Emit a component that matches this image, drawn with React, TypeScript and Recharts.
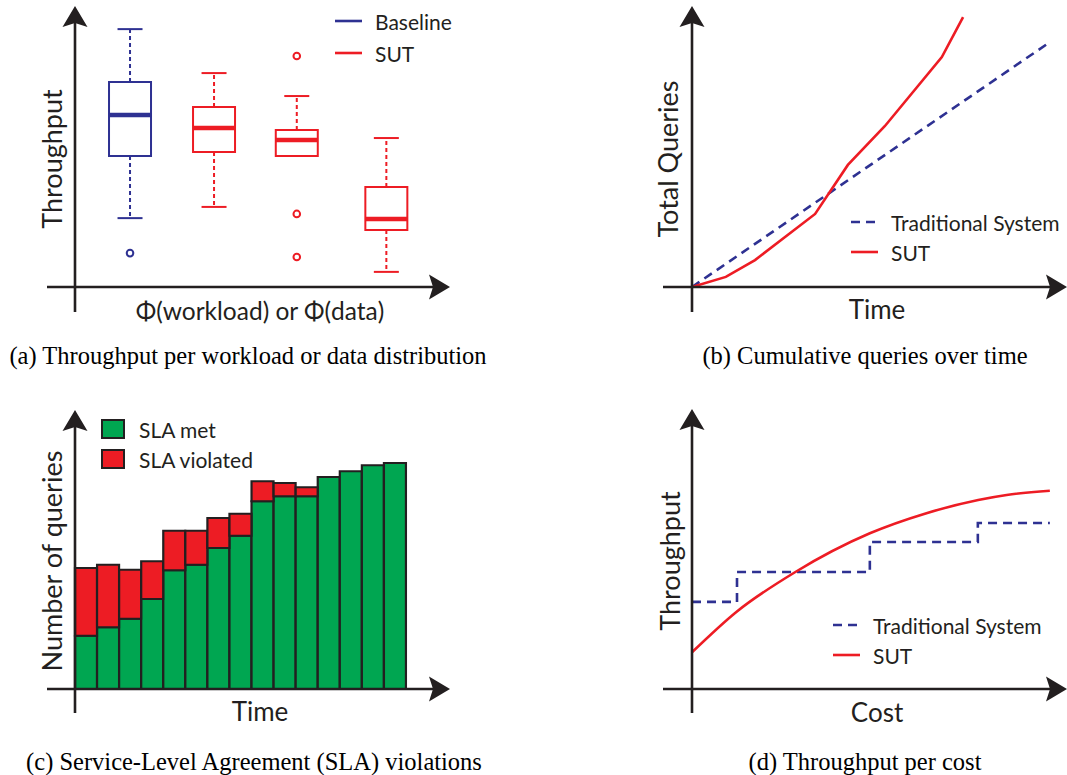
import React from "react"
import {
  Bar,
  BarChart,
  ComposedChart,
  Legend,
  Line,
  ReferenceArea,
  ReferenceLine,
  Scatter,
  XAxis,
  YAxis,
} from "recharts"

const INK = "#231f20"
const BLUE = "#2e3192"
const RED = "#ed1c24"
const GREEN = "#00a651"
const SANS = "Lato, 'Open Sans', sans-serif"
const SERIF = "'Liberation Serif', 'Times New Roman', serif"

// (a) throughput box plots, one per distribution
const boxGroup = ["Baseline", "SUT", "SUT", "SUT"]
const boxPos = [0.645, 1.63, 2.6, 3.65]
const boxMin = [24.6, 28.6, 46.8, 5.4]
const boxQ1 = [46.8, 48.2, 46.8, 20.4]
const boxMedian = [61.4, 56.8, 52.5, 24.3]
const boxQ3 = [73.2, 64.3, 56.1, 35.7]
const boxMax = [92.1, 76.4, 68.2, 53.2]
const outlierGroup = ["Baseline", "SUT", "SUT", "SUT"]
const outlierPos = [0.645, 2.6, 2.6, 2.6]
const outlierVal = [12.1, 82.5, 26.1, 10.7]

// (b) cumulative queries
const tradTime = [0, 9.9]
const tradQueries = [0, 87.1]
const sutTime = [0, 0.94, 1.75, 3.42, 4.33, 5.36, 6.94, 7.53]
const sutQueries = [0, 3.6, 9.6, 26.1, 43.6, 57.5, 82.1, 96.4]

// (c) SLA per period
const periods = ["1", "2", "3", "4", "5", "6", "7", "8", "9", "10", "11", "12", "13", "14", "15"]
const slaMet = [21.3, 24.7, 28.1, 36, 47.5, 49.7, 56.4, 61.3, 75.1, 77.1, 77.1, 84.8, 87.1, 89.5, 90.4]
const slaViolated = [27.1, 25, 19.6, 15.1, 15.8, 13.6, 12, 8.8, 8, 5.3, 3.6, 0, 0, 0, 0]

// (d) throughput per cost
const stepCost = [0, 1.25, 4.94, 7.94, 9.94]
const stepThroughput = [31.1, 41.8, 52.5, 59.3, 59.3]
const sutCost = [0, 1.24, 2.86, 4.94, 6.49, 7.95, 8.74, 9.94]
const sutThroughput = [13.1, 27.6, 41.7, 55.6, 62.7, 67.5, 69.3, 70.8]

const colorOf = (g: string) => (g === "Baseline" ? BLUE : RED)

// panel frames in page pixels: extent of the arrows, origin, px per unit
type Frame = { left: number; top: number; right: number; bottom: number; ox: number; oy: number; sx: number; sy: number }
const frameA: Frame = { left: 47, top: 6, right: 450, bottom: 312, ox: 75, oy: 287, sx: 85.3, sy: 2.8 }
const frameB: Frame = { left: 663, top: 6, right: 1067, bottom: 312, ox: 692, oy: 287, sx: 36, sy: 2.8 }
const frameC: Frame = { left: 47, top: 410, right: 450, bottom: 713, ox: 75, oy: 689, sx: 1, sy: 2.5 }
const frameD: Frame = { left: 663, top: 409, right: 1067, bottom: 713, ox: 692, oy: 689, sx: 36, sy: 2.8 }

const xDomain = (f: Frame): [number, number] => [(f.left - f.ox) / f.sx, (f.right - f.ox) / f.sx]
const yDomain = (f: Frame): [number, number] => [-(f.bottom - f.oy) / f.sy, (f.oy - f.top) / f.sy]
const noMargin = { top: 0, right: 0, bottom: 0, left: 0 }

const AxisArrow = (props: any) => {
  const { x1, y1, x2, y2 } = props
  const vertical = Math.abs(x1 - x2) < 1
  const L = 21
  const W = 12.5
  const N = 4
  const tip = vertical ? [x1, Math.min(y1, y2)] : [Math.max(x1, x2), y1]
  const dir = vertical ? [0, -1] : [1, 0]
  const start = vertical ? [x1, Math.max(y1, y2)] : [Math.min(x1, x2), y1]
  const base = [tip[0] - dir[0] * L, tip[1] - dir[1] * L]
  const perp = [-dir[1], dir[0]]
  const notch = [base[0] + dir[0] * N, base[1] + dir[1] * N]
  const pts = [tip, [base[0] + perp[0] * W, base[1] + perp[1] * W], notch, [base[0] - perp[0] * W, base[1] - perp[1] * W]]
    .map((p) => p.join(","))
    .join(" ")
  return (
    <g>
      <line x1={start[0]} y1={start[1]} x2={notch[0]} y2={notch[1]} stroke={INK} strokeWidth={2.6} />
      <polygon points={pts} fill={INK} />
    </g>
  )
}

const LegendBox = ({ items, rowH }: { items: { label: string; kind: string; color: string }[]; rowH: number }) => (
  <div style={{ fontFamily: SANS, fontSize: 21, color: INK }}>
    {items.map((it) => (
      <div key={it.label} style={{ display: "flex", alignItems: "center", height: rowH, whiteSpace: "nowrap" }}>
        <svg width={it.kind === "square" ? 24 : 27} height={20} style={{ marginRight: it.kind === "square" ? 14 : 13 }}>
          {it.kind === "square" ? (
            <rect x={1} y={1} width={22} height={18} fill={it.color} stroke={INK} strokeWidth={2} />
          ) : (
            <line x1={0} y1={10} x2={27} y2={10} stroke={it.color} strokeWidth={2.6} strokeDasharray={it.kind === "dash" ? "9 6" : undefined} />
          )}
        </svg>
        <span>{it.label}</span>
      </div>
    ))}
  </div>
)

const legendA = [
  { label: "Baseline", kind: "line", color: BLUE },
  { label: "SUT", kind: "line", color: RED },
]
const legendLines = [
  { label: "Traditional System", kind: "dash", color: BLUE },
  { label: "SUT", kind: "line", color: RED },
]
const legendC = [
  { label: "SLA met", kind: "square", color: GREEN },
  { label: "SLA violated", kind: "square", color: RED },
]

const labels = [
  { text: "Throughput", x: 51, y: 159, rot: true, size: 27 },
  { text: "Φ(workload) or Φ(data)", x: 260, y: 311, rot: false, size: 24.5 },
  { text: "Total Queries", x: 667, y: 159, rot: true, size: 27 },
  { text: "Time", x: 877, y: 309, rot: false, size: 26 },
  { text: "Number of queries", x: 51, y: 561, rot: true, size: 27 },
  { text: "Time", x: 260, y: 711, rot: false, size: 26 },
  { text: "Throughput", x: 669, y: 561, rot: true, size: 27 },
  { text: "Cost", x: 877, y: 712, rot: false, size: 26 },
]

const captions = [
  { text: "(a) Throughput per workload or data distribution", x: 248, y: 356 },
  { text: "(b) Cumulative queries over time", x: 865, y: 356 },
  { text: "(c) Service-Level Agreement (SLA) violations", x: 254, y: 762 },
  { text: "(d) Throughput per cost", x: 865, y: 762 },
]

const pos = (f: Frame): React.CSSProperties => ({ position: "absolute", left: f.left, top: f.top })

const OutlierDot = (p: any) => (
  <circle cx={p.cx} cy={p.cy} r={3.3} fill="#fff" stroke={colorOf(p.payload.group)} strokeWidth={2} />
)

const BoxPlotPanel = () => {
  const f = frameA
  const half = 21 / f.sx
  const cap = 12.5 / f.sx
  const outliers = outlierPos.map((x, i) => ({ x, y: outlierVal[i], group: outlierGroup[i] }))
  return (
    <div style={pos(f)}>
      <ComposedChart width={f.right - f.left} height={f.bottom - f.top} margin={noMargin}>
        <XAxis type="number" dataKey="x" domain={xDomain(f)} hide allowDataOverflow />
        <YAxis type="number" dataKey="y" domain={yDomain(f)} hide allowDataOverflow />
        {boxPos.map((x, i) => {
          const c = colorOf(boxGroup[i])
          return (
            <React.Fragment key={i}>
              <ReferenceLine segment={[{ x, y: boxQ3[i] }, { x, y: boxMax[i] }]} stroke={c} strokeWidth={2} strokeDasharray="4 3" />
              <ReferenceLine segment={[{ x: x - cap, y: boxMax[i] }, { x: x + cap, y: boxMax[i] }]} stroke={c} strokeWidth={2} />
              {boxMin[i] < boxQ1[i] && (
                <ReferenceLine segment={[{ x, y: boxQ1[i] }, { x, y: boxMin[i] }]} stroke={c} strokeWidth={2} strokeDasharray="4 3" />
              )}
              {boxMin[i] < boxQ1[i] && (
                <ReferenceLine segment={[{ x: x - cap, y: boxMin[i] }, { x: x + cap, y: boxMin[i] }]} stroke={c} strokeWidth={2} />
              )}
              <ReferenceArea x1={x - half} x2={x + half} y1={boxQ1[i]} y2={boxQ3[i]} fill="#fff" fillOpacity={1} stroke={c} strokeWidth={2} />
              <ReferenceLine segment={[{ x: x - half, y: boxMedian[i] }, { x: x + half, y: boxMedian[i] }]} stroke={c} strokeWidth={4.5} />
            </React.Fragment>
          )
        })}
        <Scatter data={outliers} shape={OutlierDot} isAnimationActive={false} />
        <ReferenceLine x={0} shape={AxisArrow} />
        <ReferenceLine y={0} shape={AxisArrow} />
        <Legend
          layout="vertical"
          align="center"
          verticalAlign="middle"
          wrapperStyle={{ left: 288, top: -1, width: "auto" }}
          content={() => <LegendBox items={legendA} rowH={32} />}
        />
      </ComposedChart>
    </div>
  )
}

const CumulativePanel = () => {
  const f = frameB
  const trad = tradTime.map((t, i) => ({ t, q: tradQueries[i] }))
  const sut = sutTime.map((t, i) => ({ t, q: sutQueries[i] }))
  return (
    <div style={pos(f)}>
      <ComposedChart width={f.right - f.left} height={f.bottom - f.top} margin={noMargin}>
        <XAxis type="number" dataKey="t" domain={xDomain(f)} hide allowDataOverflow />
        <YAxis type="number" domain={yDomain(f)} hide allowDataOverflow />
        <Line data={trad} dataKey="q" type="linear" stroke={BLUE} strokeWidth={2.6} strokeDasharray="9 6" dot={false} isAnimationActive={false} />
        <Line data={sut} dataKey="q" type="linear" stroke={RED} strokeWidth={2.6} dot={false} isAnimationActive={false} />
        <ReferenceLine x={0} shape={AxisArrow} />
        <ReferenceLine y={0} shape={AxisArrow} />
        <Legend
          layout="vertical"
          align="center"
          verticalAlign="middle"
          wrapperStyle={{ left: 188, top: 201, width: "auto" }}
          content={() => <LegendBox items={legendLines} rowH={30} />}
        />
      </ComposedChart>
    </div>
  )
}

const SlaPanel = () => {
  const f = frameC
  const data = periods.map((p, i) => ({ period: p, met: slaMet[i], violated: slaViolated[i] }))
  return (
    <div style={pos(f)}>
      <BarChart width={f.right - f.left} height={f.bottom - f.top} data={data} margin={noMargin} barCategoryGap={0} barGap={0}>
        <XAxis dataKey="period" type="category" hide padding={{ left: f.ox - f.left, right: 44 }} />
        <YAxis type="number" domain={yDomain(f)} hide allowDataOverflow />
        <Bar dataKey="met" stackId="s" fill={GREEN} stroke={INK} strokeWidth={2.2} isAnimationActive={false} />
        <Bar dataKey="violated" stackId="s" fill={RED} stroke={INK} strokeWidth={2.2} isAnimationActive={false} />
        <ReferenceLine x={periods[0]} position="start" shape={AxisArrow} />
        <ReferenceLine y={0} shape={AxisArrow} />
        <Legend
          layout="vertical"
          align="center"
          verticalAlign="middle"
          wrapperStyle={{ left: 54, top: 4, width: "auto" }}
          content={() => <LegendBox items={legendC} rowH={30} />}
        />
      </BarChart>
    </div>
  )
}

const CostPanel = () => {
  const f = frameD
  const step = stepCost.map((c, i) => ({ c, v: stepThroughput[i] }))
  const sut = sutCost.map((c, i) => ({ c, v: sutThroughput[i] }))
  return (
    <div style={pos(f)}>
      <ComposedChart width={f.right - f.left} height={f.bottom - f.top} margin={noMargin}>
        <XAxis type="number" dataKey="c" domain={xDomain(f)} hide allowDataOverflow />
        <YAxis type="number" domain={yDomain(f)} hide allowDataOverflow />
        <Line data={step} dataKey="v" type="stepAfter" stroke={BLUE} strokeWidth={2.6} strokeDasharray="9 6" dot={false} isAnimationActive={false} />
        <Line data={sut} dataKey="v" type="monotone" stroke={RED} strokeWidth={2.6} dot={false} isAnimationActive={false} />
        <ReferenceLine x={0} shape={AxisArrow} />
        <ReferenceLine y={0} shape={AxisArrow} />
        <Legend
          layout="vertical"
          align="center"
          verticalAlign="middle"
          wrapperStyle={{ left: 170, top: 201, width: "auto" }}
          content={() => <LegendBox items={legendLines} rowH={30} />}
        />
      </ComposedChart>
    </div>
  )
}

export default function App() {
  return (
    <div style={{ position: "absolute", left: 0, top: 0, width: 1067, height: 775, background: "#fff", overflow: "hidden" }}>
      <BoxPlotPanel />
      <CumulativePanel />
      <SlaPanel />
      <CostPanel />
      {labels.map((l, i) => (
        <div
          key={i}
          style={{
            position: "absolute",
            left: l.x,
            top: l.y,
            transform: `translate(-50%, -50%)${l.rot ? " rotate(-90deg)" : ""}`,
            fontFamily: SANS,
            fontSize: l.size,
            lineHeight: 1,
            color: INK,
            whiteSpace: "nowrap",
          }}
        >
          {l.text}
        </div>
      ))}
      {captions.map((c, i) => (
        <div
          key={i}
          style={{
            position: "absolute",
            left: c.x,
            top: c.y,
            transform: "translate(-50%, -50%)",
            fontFamily: SERIF,
            fontSize: 24.5,
            lineHeight: 1,
            color: "#000",
            whiteSpace: "nowrap",
          }}
        >
          {c.text}
        </div>
      ))}
    </div>
  )
}
